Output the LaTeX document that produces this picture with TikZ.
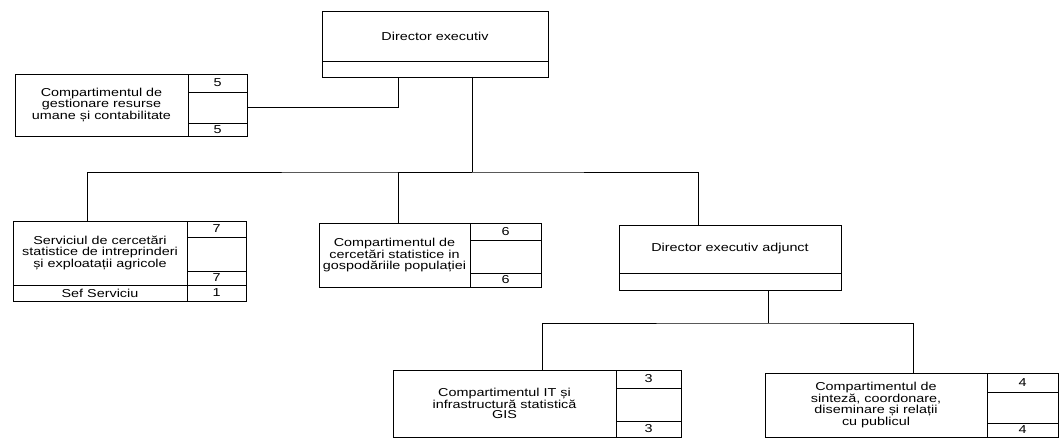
\documentclass[tikz,border=0pt]{standalone}
\usepackage{fontspec}
\setmainfont{Liberation Sans}[FakeStretch=1.25]
\usetikzlibrary{positioning}

\begin{document}
\begin{tikzpicture}[x=1pt,y=-1pt,line width=0.8pt,font=\fontsize{11.5}{10.7}\selectfont]
%page of the scan
\useasboundingbox (0,0) rectangle (1064,438);

   \tikzstyle{unit}=[draw,anchor=north west,align=center,inner sep=1pt,outer sep=0pt]
   \tikzstyle{cell}=[draw,inner sep=0pt,outer sep=0pt]

  % top
  \node[unit,minimum width=226pt,minimum height=50pt] (dir) at (322,11) {Director executiv};
  \node[unit,minimum width=226pt,minimum height=16pt,below=0pt of dir] (dirb) {};

  % resurse umane
  \node[unit,minimum width=173pt,minimum height=62pt] (hr) at (15,74) {Compartimentul de\\gestionare resurse\\umane și contabilitate};
  \node[cell,minimum width=59pt,minimum height=18pt,anchor=north west] (hr1) at (hr.north east) {5};
  \node[cell,minimum width=59pt,minimum height=31pt,below=0pt of hr1] (hr2) {};
  \node[cell,minimum width=59pt,minimum height=13pt,below=0pt of hr2] (hr3) {5};

  % serviciu
  \node[unit,minimum width=174pt,minimum height=64pt] (serv) at (13,221) {Serviciul de cercetări\\statistice de intreprinderi\\și exploatații agricole};
  \node[cell,minimum width=59pt,minimum height=16pt,anchor=north west] (sv1) at (serv.north east) {7};
  \node[cell,minimum width=59pt,minimum height=34pt,below=0pt of sv1] (sv2) {};
  \node[cell,minimum width=59pt,minimum height=14pt,below=0pt of sv2] (sv3) {7};
  \node[unit,minimum width=174pt,minimum height=16pt,below=0pt of serv] (sef) {Sef Serviciu};
  \node[cell,minimum width=59pt,minimum height=16pt,below=0pt of sv3] (sef1) {1};

  % gospodarii
  \node[unit,minimum width=151pt,minimum height=64pt] (cgp) at (319,223) {Compartimentul de\\cercetări statistice in\\gospodăriile populației};
  \node[cell,minimum width=71pt,minimum height=17pt,anchor=north west] (cg1) at (cgp.north east) {6};
  \node[cell,minimum width=71pt,minimum height=33pt,below=0pt of cg1] (cg2) {};
  \node[cell,minimum width=71pt,minimum height=14pt,below=0pt of cg2] (cg3) {6};

  % adjunct
  \node[unit,minimum width=222pt,minimum height=48pt] (adj) at (619,225) {Director executiv adjunct};
  \node[unit,minimum width=222pt,minimum height=17pt,below=0pt of adj] (adjb) {};

  % IT
  \node[unit,minimum width=223pt,minimum height=67pt] (it) at (393,370) {Compartimentul IT și\\infrastructură statistică\\GIS};
  \node[cell,minimum width=65pt,minimum height=18pt,anchor=north west] (it1) at (it.north east) {3};
  \node[cell,minimum width=65pt,minimum height=33pt,below=0pt of it1] (it2) {};
  \node[cell,minimum width=65pt,minimum height=16pt,below=0pt of it2] (it3) {3};

  % sinteza
  \node[unit,minimum width=222pt,minimum height=64pt] (sint) at (765,373) {Compartimentul de\\sinteză, coordonare,\\diseminare și relații\\cu publicul};
  \node[cell,minimum width=71pt,minimum height=19pt,anchor=north west] (si1) at (sint.north east) {4};
  \node[cell,minimum width=71pt,minimum height=31pt,below=0pt of si1] (si2) {};
  \node[cell,minimum width=71pt,minimum height=14pt,below=0pt of si2] (si3) {4};

 % lines
 \draw (hr2.east) -| ([xshift=-37pt]dirb.south);
 \draw ([xshift=37pt]dirb.south) -- ++(0,95) coordinate (bus);
 \draw ([xshift=-13pt]serv.north) |- (bus) -| ([xshift=-32pt]adj.north);
 \draw ([xshift=4pt]cgp.north) |- (bus);
 \draw ([xshift=38pt]adjb.south) -- ++(0,33) coordinate (bus2);
 \draw ([xshift=38pt]it.north) |- (bus2) -| ([xshift=37pt]sint.north);

\end{tikzpicture}
\end{document}
